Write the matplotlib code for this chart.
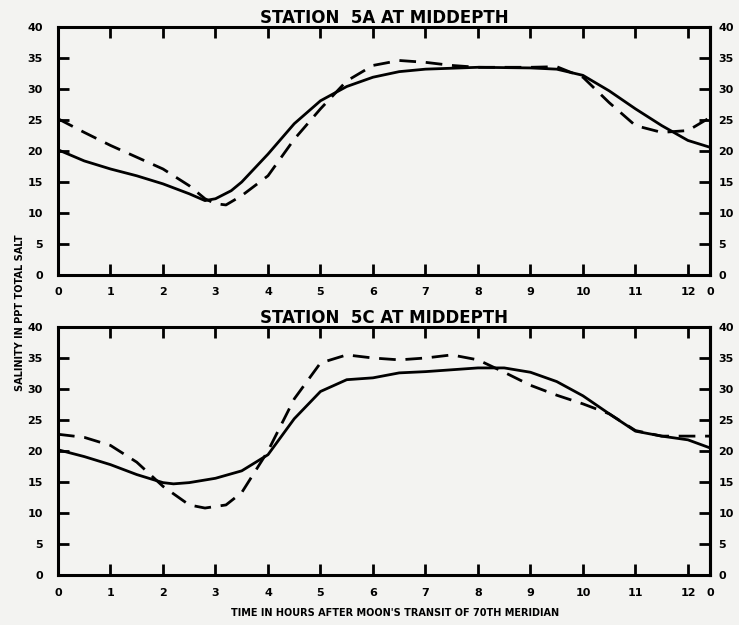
import matplotlib
matplotlib.use("Agg")
import matplotlib.pyplot as plt

# ---- data ----
hours_top = [0, 0.5, 1, 1.5, 2, 2.5, 2.8, 3, 3.3, 3.5, 4, 4.5, 5, 5.5, 6, 6.5, 7, 8, 9, 9.5, 10, 10.5, 11, 11.5, 12, 12.42]
sal_5a_solid = [20.2, 18.4, 17.1, 16.0, 14.7, 13.1, 12.0, 12.3, 13.6, 15.0, 19.5, 24.4, 28.1, 30.4, 31.9, 32.8, 33.2, 33.5, 33.4, 33.2, 32.2, 29.7, 26.8, 24.1, 21.7, 20.6]

hours_top_d = [0, 0.5, 1, 1.5, 2, 2.5, 2.8, 3, 3.2, 3.5, 4, 4.5, 5, 5.5, 6, 6.5, 7, 7.5, 8, 9, 9.5, 10, 10.5, 11, 11.5, 12, 12.42]
sal_5a_dash = [25.2, 23.0, 20.9, 19.0, 17.1, 14.4, 12.3, 11.5, 11.3, 12.8, 16.0, 21.9, 26.8, 31.3, 33.8, 34.6, 34.3, 33.8, 33.5, 33.5, 33.6, 31.9, 27.8, 24.1, 23.0, 23.3, 25.4]

hours_bot = [0, 0.5, 1, 1.5, 2, 2.2, 2.5, 3, 3.5, 4, 4.5, 5, 5.5, 6, 6.5, 7, 7.5, 8, 8.5, 9, 9.5, 10, 10.5, 11, 11.5, 12, 12.42]
sal_5c_solid = [20.2, 19.1, 17.8, 16.2, 14.9, 14.7, 14.9, 15.6, 16.8, 19.4, 25.2, 29.6, 31.5, 31.8, 32.6, 32.8, 33.1, 33.4, 33.4, 32.7, 31.2, 28.9, 26.0, 23.2, 22.4, 21.8, 20.5]

hours_bot_d = [0, 0.5, 1, 1.5, 2, 2.5, 2.8, 3.2, 3.5, 4, 4.5, 5, 5.5, 6, 6.5, 7, 7.5, 8, 8.5, 9, 9.5, 10, 10.5, 11, 11.5, 12, 12.42]
sal_5c_dash = [22.7, 22.2, 20.9, 18.2, 14.3, 11.3, 10.8, 11.3, 13.3, 20.0, 28.4, 34.2, 35.5, 35.0, 34.7, 35.0, 35.5, 34.7, 32.7, 30.6, 29.0, 27.6, 26.0, 23.3, 22.4, 22.4, 22.4]

x_ticks = [0, 1, 2, 3, 4, 5, 6, 7, 8, 9, 10, 11, 12, 12.42]
x_tick_labels = ["0", "1", "2", "3", "4", "5", "6", "7", "8", "9", "10", "11", "12", "0"]
y_ticks = [0, 5, 10, 15, 20, 25, 30, 35, 40]
titles = ["STATION  5A AT MIDDEPTH", "STATION  5C AT MIDDEPTH"]

bg = "#f3f3f1"
fig = plt.figure(figsize=(7.39, 6.25), dpi=100, facecolor=bg)

ax_top = fig.add_axes([58/739, 1-275/625, 652/739, 248/625])
ax_bot = fig.add_axes([58/739, 1-575/625, 652/739, 248/625])

panels = [
    (ax_top, hours_top, sal_5a_solid, hours_top_d, sal_5a_dash, titles[0]),
    (ax_bot, hours_bot, sal_5c_solid, hours_bot_d, sal_5c_dash, titles[1]),
]

for ax, xs, ys, xd, yd, title in panels:
    ax.set_facecolor(bg)
    ax.plot(xs, ys, color="black", lw=2.0, solid_capstyle="round", solid_joinstyle="round")
    ax.plot(xd, yd, color="black", lw=2.0, dashes=(6, 3.5))
    ax.set_xlim(0, 12.42)
    ax.set_ylim(0, 40)
    ax.set_xticks(x_ticks)
    ax.set_xticklabels(x_tick_labels)
    ax.set_yticks(y_ticks)
    ax.set_yticklabels([str(v) for v in y_ticks])
    ax.tick_params(axis="both", direction="in", length=8, width=2, colors="black",
                   labelsize=8, top=True, right=True, labelright=False)
    ax.tick_params(axis="x", pad=9)
    ax.tick_params(axis="y", pad=11)
    for lab in ax.get_xticklabels() + ax.get_yticklabels():
        lab.set_fontweight("bold")
    for s in ax.spines.values():
        s.set_linewidth(2.2)
    sec = ax.secondary_yaxis("right")
    sec.set_yticks(y_ticks)
    sec.set_yticklabels([str(v) for v in y_ticks])
    sec.tick_params(axis="y", length=0, pad=6, labelsize=8)
    sec.spines["right"].set_linewidth(2.2)
    for lab in sec.get_yticklabels():
        lab.set_fontweight("bold")
    ax.set_title(title, fontsize=12, fontweight="bold", pad=3, family="DejaVu Sans")

fig.text(20/739, 0.5, "SALINITY IN PPT TOTAL SALT", rotation=90, ha="center", va="center",
         fontsize=7, fontweight="bold")
fig.text(395/739, 1-613/625, "TIME IN HOURS AFTER MOON'S TRANSIT OF 70TH MERIDIAN",
         ha="center", va="center", fontsize=7, fontweight="bold")

fig.savefig("out.png", dpi=100, facecolor=bg)
